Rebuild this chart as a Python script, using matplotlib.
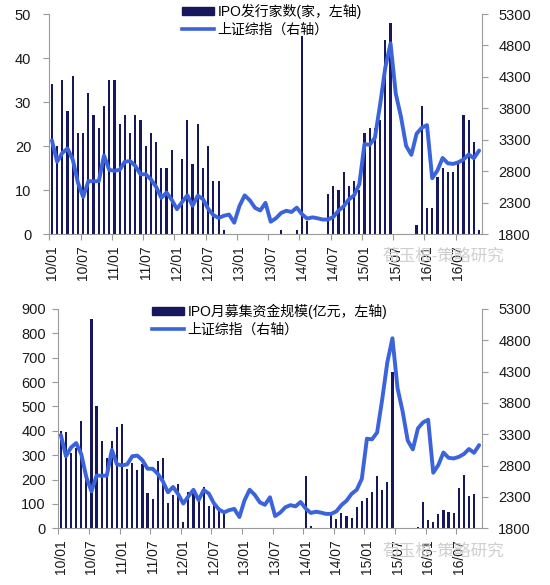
import matplotlib
matplotlib.use('Agg')
import matplotlib.pyplot as plt
import numpy as np
from matplotlib.patches import Patch
from matplotlib.lines import Line2D

plt.rcParams['font.family'] = ['Liberation Sans', 'Noto Sans CJK SC', 'DejaVu Sans']

# ---------------- data (monthly, 2010/01 - 2016/11) ----------------
tick_labels = ['10/01', '10/07', '11/01', '11/07', '12/01', '12/07', '13/01',
               '13/07', '14/01', '14/07', '15/01', '15/07', '16/01', '16/07']

ipo_count = [34, 20, 35, 28, 36, 23, 23, 32, 27, 24, 29, 35,
             35, 25, 27, 23, 27, 26, 20, 23, 21, 15, 15, 19,
             0, 17, 26, 16, 25, 15, 20, 12, 12, 1, 0, 0,
             0, 0, 0, 0, 0, 0, 0, 0, 1, 0, 0, 1,
             45, 3, 0, 0, 0, 9, 11, 10, 14, 11, 12, 10,
             23, 24, 24, 26, 44, 48, 0, 0, 0, 0, 2, 29,
             6, 6, 13, 15, 14, 14, 16, 27, 26, 21, 1]

ipo_amount = [400, 395, 310, 330, 440, 230, 860, 500, 360, 290, 360, 415,
              430, 245, 270, 240, 265, 145, 120, 275, 290, 105, 135, 180,
              27, 150, 155, 115, 170, 90, 105, 70, 62, 0, 0, 0,
              0, 0, 0, 0, 0, 0, 0, 0, 0, 0, 0, 0,
              215, 10, 0, 0, 0, 55, 37, 64, 51, 41, 86, 112,
              123, 148, 215, 157, 189, 643, 0, 0, 0, 0, 7, 107,
              34, 27, 57, 75, 68, 64, 167, 219, 134, 141, 3]

sse_index = [3290, 2950, 3090, 3160, 2985, 2615, 2390, 2640, 2640, 2640, 3050, 2820,
             2805, 2820, 2950, 2960, 2885, 2750, 2750, 2670, 2550, 2375, 2460, 2345,
             2195, 2310, 2415, 2250, 2410, 2355, 2200, 2100, 2055, 2090, 2110, 1980,
             2245, 2415, 2335, 2215, 2175, 2295, 1995, 2050, 2135, 2170, 2150, 2220,
             2115, 2045, 2065, 2050, 2030, 2030, 2070, 2170, 2240, 2350, 2415, 2590,
             3230, 3220, 3330, 3860, 4450, 4833, 4036, 3665, 3200, 3060, 3395, 3490,
             3532, 2687, 2810, 3010, 2925, 2915, 2940, 2985, 3065, 3005, 3128]

legend_top = ['IPO发行家数(家，左轴)', '上证综指（右轴）']
legend_bottom = ['IPO月募集资金规模(亿元，左轴)', '上证综指（右轴）']

BAR_C = '#17175e'
LINE_C = '#3b63dc'
SPINE_C = '#9a9a9a'
TXT_C = '#1a1a1a'

W, H = 550, 585
fig = plt.figure(figsize=(W / 100, H / 100), dpi=100)
fig.patch.set_facecolor('white')

n = len(ipo_count)
x = np.arange(n)


def panel(rect, bars, ymax, ystep, lpad, legend_labels, leg_xy):
    l, t, r, b = rect
    ax = fig.add_axes([l / W, 1 - b / H, (r - l) / W, (b - t) / H])
    ax.bar(x, bars, width=0.42, color=BAR_C, zorder=2)
    ax.set_xlim(-0.5, n - 0.5)
    ax.set_ylim(0, ymax)
    ax.set_yticks(np.arange(0, ymax + 1, ystep))
    ax.set_xticks(np.arange(0, n, 6))
    ax.set_xticklabels(tick_labels, rotation=90)
    ax.set_xticks(np.arange(-0.5, n, 6), minor=True)
    ax.tick_params(axis='x', which='major', length=0, pad=8, labelsize=10, colors=TXT_C)
    ax.tick_params(axis='x', which='minor', length=4, width=0.8, color=SPINE_C, direction='out')
    ax.tick_params(axis='y', length=4, width=0.8, color=SPINE_C, direction='out',
                   pad=lpad, labelsize=10.5, labelcolor=TXT_C)
    for s in ['top', 'right']:
        ax.spines[s].set_visible(False)
    for s in ['left', 'bottom']:
        ax.spines[s].set_color(SPINE_C)
        ax.spines[s].set_linewidth(0.8)

    axr = ax.twinx()
    axr.plot(x, sse_index, color=LINE_C, lw=2.8, solid_joinstyle='round',
             solid_capstyle='round', zorder=3)
    axr.set_ylim(1800, 5300)
    axr.set_yticks(np.arange(1800, 5301, 500))
    axr.tick_params(axis='y', length=4, width=0.8, color=SPINE_C, direction='out',
                    pad=8, labelsize=10.5, labelcolor=TXT_C)
    for s in ['top', 'left', 'bottom']:
        axr.spines[s].set_visible(False)
    axr.spines['right'].set_color(SPINE_C)
    axr.spines['right'].set_linewidth(0.8)

    handles = [Patch(facecolor=BAR_C, edgecolor=BAR_C),
               Line2D([], [], color=LINE_C, lw=2.6)]
    fig.legend(handles, legend_labels, loc='upper left',
               bbox_to_anchor=(leg_xy[0] / W, 1 - leg_xy[1] / H),
               frameon=False, fontsize=10, handlelength=2.3, handleheight=0.5,
               handletextpad=0.25, labelspacing=0.25, borderpad=0, borderaxespad=0)
    return ax, axr


panel((49.3, 14, 481.7, 234), ipo_count, 50, 10, 9, legend_top, (182, 4))
panel((58.3, 309, 481.7, 528.3), ipo_amount, 900, 100, 5, legend_bottom, (152, 304))

# faint watermark of the source
for wy in (256, 551):
    fig.text(383 / W, 1 - wy / H, '荀玉根-策略研究', color='#cfcfcf', fontsize=12,
             va='center', ha='left', zorder=0)

fig.savefig('out.png', dpi=100, facecolor='white')
